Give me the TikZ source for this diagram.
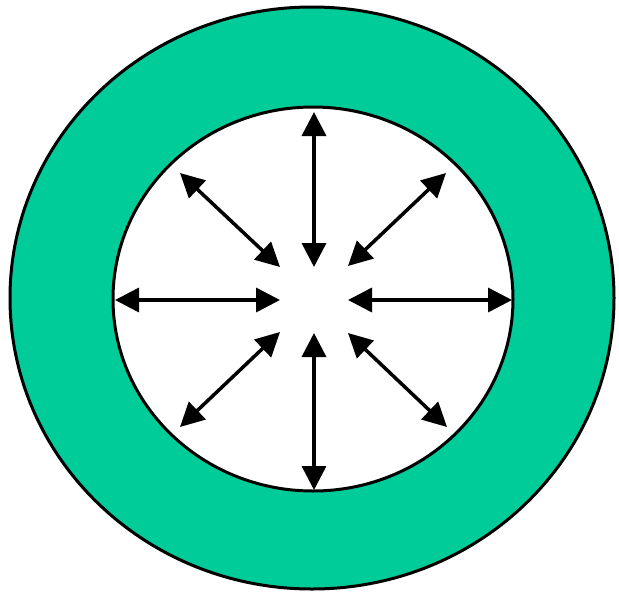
\documentclass[tikz,border=0pt]{standalone}
\usetikzlibrary{arrows.meta}
\definecolor{rimgreen}{RGB}{0,204,153}
\begin{document}
\begin{tikzpicture}[x=1pt,y=-1pt,
  rim/.style={draw=black, line width=3pt},
  spoke/.style={line width=3.5pt, {Triangle[length=24pt,width=24pt]}-{Triangle[length=24pt,width=24pt]}}]
\useasboundingbox (0,0) rectangle (619,595);
\fill[rimgreen, rim] (312,298) ellipse [x radius=302, y radius=291];
\fill[white, rim] (313,299) ellipse [x radius=200, y radius=192];
% spoke end points
\coordinate (nI) at (314,267); \coordinate (nO) at (314,112);
\coordinate (sI) at (314,333); \coordinate (sO) at (314,490);
\coordinate (wI) at (280,300); \coordinate (wO) at (115,300);
\coordinate (eI) at (348,300); \coordinate (eO) at (512,300);
\coordinate (nwI) at (280,267); \coordinate (nwO) at (180,173);
\coordinate (neI) at (348,266); \coordinate (neO) at (446,173);
\coordinate (swI) at (280,332); \coordinate (swO) at (180,427);
\coordinate (seI) at (348,333); \coordinate (seO) at (447,427);
\foreach \d in {n,s,w,e,nw,ne,sw,se}
  \draw[spoke] (\d O) -- (\d I);
\end{tikzpicture}
\end{document}
